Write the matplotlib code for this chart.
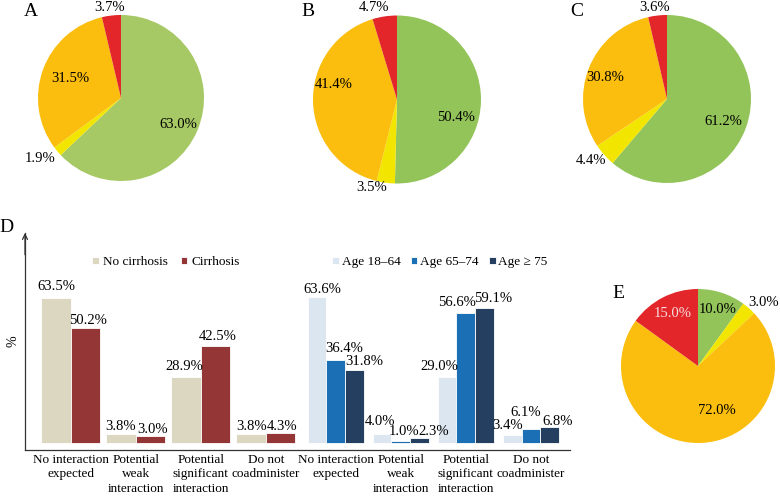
import matplotlib.pyplot as plt
import numpy as np

plt.rcParams['font.family'] = ['Liberation Serif', 'DejaVu Serif']
plt.rcParams['font.size'] = 9

# pie data (A, B, C, E)
pie_a = [63.0, 1.9, 31.5, 3.7]
pie_b = [50.4, 3.5, 41.4, 4.7]
pie_c = [61.2, 4.4, 30.8, 3.6]
pie_e = [10.0, 3.0, 72.0, 15.0]

# bar data (D)
categories = ['No interaction\nexpected', 'Potential\nweak\ninteraction',
              'Potential\nsignificant\ninteraction', 'Do not\ncoadminister']
no_cirrhosis = [63.5, 3.8, 28.9, 3.8]
cirrhosis = [50.2, 3.0, 42.5, 4.3]
age_18_64 = [63.6, 4.0, 29.0, 3.4]
age_65_74 = [36.4, 1.0, 56.6, 6.1]
age_75 = [31.8, 2.3, 59.1, 6.8]

W, H = 780, 497
fig = plt.figure(figsize=(W / 100, H / 100), dpi=100)

def px_axes(x0, y0, x1, y1):
    return fig.add_axes([x0 / W, 1 - y1 / H, (x1 - x0) / W, (y1 - y0) / H])

green_a = '#a6c965'
green = '#93c45a'
yellow = '#f2e500'
orange = '#fbbe0e'
red = '#e2262a'

def draw_pie(cx, cy, r, vals, cols, lab_pos, letter, letter_xy, txtcols=None):
    ax = px_axes(cx - r, cy - r, cx + r, cy + r)
    ax.pie(vals, colors=cols, startangle=90, counterclock=False,
           wedgeprops=dict(linewidth=0))
    ax.set_xlim(-1, 1)
    ax.set_ylim(-1, 1)
    for i, v in enumerate(vals):
        d, ang = lab_pos[i]
        c = 'black' if txtcols is None else txtcols[i]
        ax.text(d * np.cos(np.radians(ang)), d * np.sin(np.radians(ang)),
                '%.1f%%' % v, ha='center', va='center', fontsize=10.5, color=c)
    fig.text(letter_xy[0] / W, 1 - letter_xy[1] / H, letter, fontsize=14,
             ha='center', va='center')

draw_pie(121, 98, 83, pie_a, [green_a, yellow, orange, red],
         [(0.76, -25), (1.22, -143), (0.66, 159), (1.1, 97)], 'A', (31, 12))
draw_pie(397, 99.5, 84, pie_b, [green, yellow, orange, red],
         [(0.73, -17), (1.09, -106), (0.77, 167), (1.13, 104)], 'B', (308, 12))
draw_pie(667, 99, 84, pie_c, [green, yellow, orange, red],
         [(0.72, -22), (1.16, -141), (0.78, 161), (1.1, 97.5)], 'C', (577, 12))
draw_pie(698, 366, 77, pie_e, [green, yellow, orange, red],
         [(0.78, 71), (1.18, 44), (0.63, -67), (0.76, 116)], 'E', (618, 294),
         txtcols=['black', 'black', 'black', '#f6dede'])

# panel D
ax = px_axes(25, 233, 570, 450)
ax.set_xlim(-0.70, 7.67)
ax.set_ylim(-3.06, 91.7)

x1 = np.arange(4)
x2 = np.arange(4) + 4.07
w1 = 0.453
w2 = 0.287
bars = []
bars.append(ax.bar(x1 - w1 / 2, no_cirrhosis, w1, color='#dcd7c0', edgecolor='white', linewidth=0.6, label='No cirrhosis'))
bars.append(ax.bar(x1 + w1 / 2, cirrhosis, w1, color='#943635', edgecolor='white', linewidth=0.6, label='Cirrhosis'))
bars.append(ax.bar(x2 - w2, age_18_64, w2, color='#dce6f1', edgecolor='white', linewidth=0.6, label='Age 18\u201364'))
bars.append(ax.bar(x2, age_65_74, w2, color='#1a6fb5', edgecolor='white', linewidth=0.6, label='Age 65\u201374'))
bars.append(ax.bar(x2 + w2, age_75, w2, color='#243f60', edgecolor='white', linewidth=0.6, label='Age \u2265 75'))

# label offsets in pixels (dx, dy) for each bar series
offs = [
    [(1, 11), (0, 8), (-2, 10), (0, 8)],
    [(3, 8), (2, 7), (2, 9), (1, 7)],
    [(5, 8), (-2, 12), (-8, 10), (-5, 10)],
    [(9, 11), (3, 9), (-9, 11), (-5, 17)],
    [(10, 9), (14, 6), (9, 9), (8, 6)],
]
for s, bc in enumerate(bars):
    for j, rect in enumerate(bc):
        h = rect.get_height()
        dx, dy = offs[s][j]
        ax.annotate('%.1f%%' % h, (rect.get_x() + rect.get_width() / 2, h),
                    xytext=(dx, dy), textcoords='offset pixels',
                    ha='center', va='center', fontsize=10.5)

ax.set_xticks(list(x1) + list(x2))
ax.set_xticklabels(categories + categories, fontsize=9.5, linespacing=1.25)
ax.tick_params(axis='x', length=0, pad=3)
ax.set_yticks([])
for sp in ['top', 'right']:
    ax.spines[sp].set_visible(False)
ax.spines['left'].set_color('#333333')
ax.spines['bottom'].set_color('#333333')
ax.spines['left'].set_linewidth(0.9)
ax.spines['bottom'].set_linewidth(0.9)
ax.annotate('', xy=(0, 1.0), xytext=(0, 0.9), xycoords='axes fraction',
            arrowprops=dict(arrowstyle='->', color='#333333', lw=0.9,
                            shrinkA=0, shrinkB=0))
ax.set_ylabel('%', fontsize=10, labelpad=4)

leg1 = ax.legend(handles=bars[:2], loc='center', ncol=2, frameon=False,
                 bbox_to_anchor=((166 - 25) / 545, (450 - 262) / 217),
                 handlelength=0.5, handleheight=0.5, handletextpad=0.3,
                 columnspacing=1.0, fontsize=9.5)
ax.add_artist(leg1)
ax.legend(handles=bars[2:], loc='center', ncol=3, frameon=False,
          bbox_to_anchor=((440 - 25) / 545, (450 - 262) / 217),
          handlelength=0.5, handleheight=0.5, handletextpad=0.2,
          columnspacing=0.8, fontsize=9.5)

fig.text(6 / W, 1 - 227 / H, 'D', fontsize=14, ha='center', va='center')

fig.savefig('out.png', dpi=100)
